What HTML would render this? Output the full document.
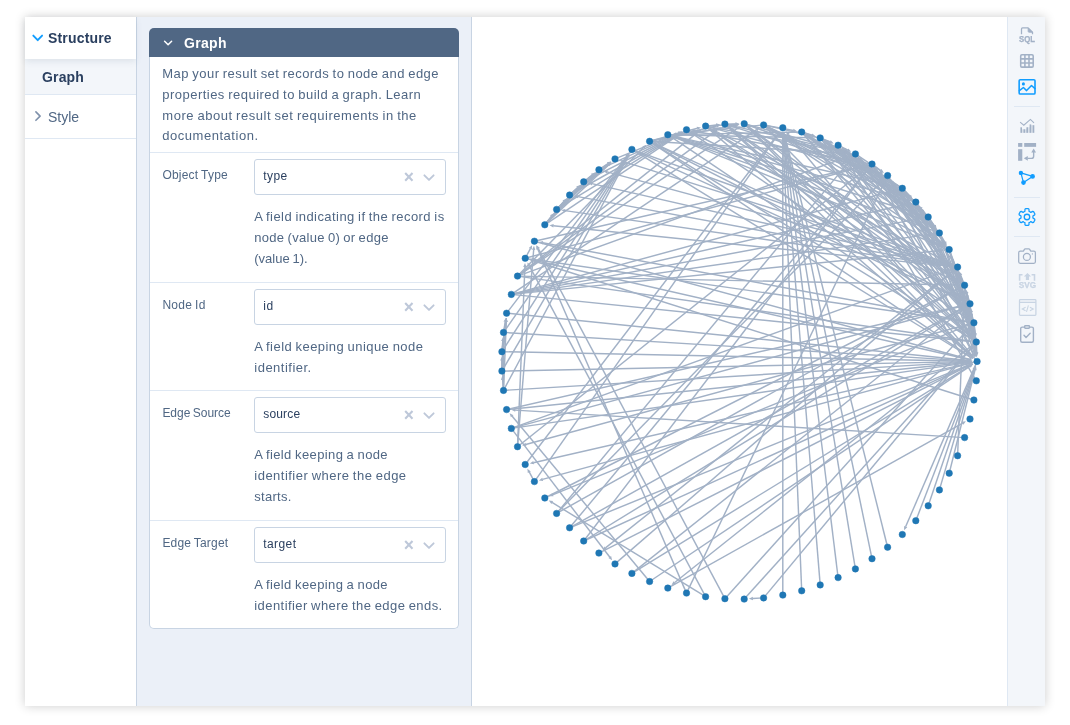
<!DOCTYPE html>
<html lang="en">
<head>
<meta charset="utf-8">
<title>Graph</title>
<style>
*{box-sizing:border-box;margin:0;padding:0}
html,body{width:1070px;height:725px;background:#fff;overflow:hidden}
body{font-family:"Liberation Sans",sans-serif;color:#506784;position:relative}
#app{position:absolute;left:25px;top:17px;width:1020px;height:689px;background:#fff;box-shadow:0 0 10px rgba(0,0,0,.2)}
#side{position:absolute;left:0;top:0;width:112px;height:689px;background:#fff;border-right:1px solid #c8d4e3}
.sg{position:absolute;left:0;width:111px}
#s1{top:0;height:42px;background:#fff;z-index:2;box-shadow:0 3px 6px rgba(80,103,132,.12)}
#s2{top:42px;height:36px;background:#f3f6fa;border-bottom:1px solid #dfe8f3}
#s3{top:78px;height:44px;border-bottom:1px solid #dfe8f3}
.st{position:absolute;font-size:14px;line-height:16px;white-space:nowrap;color:#2a3f5f}
#panel{position:absolute;left:112px;top:0;width:335px;height:689px;background:#ebf0f8;border-right:1px solid #c8d4e3}
#fold{position:absolute;left:12px;top:11px;width:310px;height:601px}
#fb{position:absolute;left:0;top:29px;width:310px;height:572px;background:#fff;border:1px solid #c8d4e3;border-top:0;border-radius:0 0 5px 5px}
#fh{position:absolute;left:0;top:0;width:310px;height:29px;background:#506784;border-radius:5px 5px 0 0}
#fh span{position:absolute;left:35px;top:7px;font-size:14px;line-height:16px;font-weight:bold;color:#fff;letter-spacing:.3px}
.sep{position:absolute;left:0;width:308px;height:1px;background:#dfe8f3}
.t{position:absolute;white-space:nowrap;font-size:13px;line-height:16px;color:#506784}
.lb{position:absolute;white-space:nowrap;font-size:12px;line-height:16px;color:#506784;left:12px}
.sel{position:absolute;left:104px;width:192px;height:36px;border:1px solid #c8d4e3;border-radius:3px;background:#fff}
.vl{position:absolute;font-size:12px;line-height:16px;color:#2a3f5f;white-space:nowrap}
.sel svg{position:absolute;left:0;top:0}
#plot{position:absolute;left:447px;top:0;width:535px;height:689px;background:#fff}
#tb{position:absolute;left:982px;top:0;width:38px;height:689px;background:#f3f6fa;border-left:1px solid #dfe8f3}
#tb svg{position:absolute;left:0;top:0}
</style>
</head>
<body>
<div id="app">
  <div id="side">
    <div class="sg" id="s1">
      <svg width="111" height="42" style="position:absolute;left:0;top:0"><path d="M8.3 18.6 L12.7 23.2 L17.1 18.6" fill="none" stroke="#119dff" stroke-width="1.9" stroke-linecap="round" stroke-linejoin="round"/></svg>
      <span class="st" id="t_structure" style="left:23px;top:13px;font-weight:bold;letter-spacing:.17px">Structure</span>
    </div>
    <div class="sg" id="s2"><span class="st" id="t_graphside" style="left:17px;top:10px;font-weight:bold;letter-spacing:.15px">Graph</span></div>
    <div class="sg" id="s3">
      <svg width="111" height="44" style="position:absolute;left:0;top:0"><path d="M10.9 16.9 L15.1 21.1 L10.9 25.3" fill="none" stroke="#7f91ab" stroke-width="1.6" stroke-linecap="round" stroke-linejoin="round"/></svg>
      <span class="st" id="t_style" style="left:23px;top:14px;color:#506784">Style</span>
    </div>
  </div>
  <div id="panel">
    <div id="fold">
      <div id="fh">
        <svg width="40" height="30" style="position:absolute;left:0;top:0"><path d="M15.6 13.3 L19.1 16.8 L22.6 13.3" fill="none" stroke="#fff" stroke-width="1.5" stroke-linecap="round" stroke-linejoin="round"/></svg>
        <span id="t_fh">Graph</span>
      </div>
      <div id="fb">
<span class="t" style="left:12.30px;top:9px;letter-spacing:0.453px;word-spacing:-0.70px;">Map your result set records to node and edge</span>
<span class="t" style="left:12.30px;top:30px;letter-spacing:0.473px;word-spacing:-0.70px;">properties required to build a graph. Learn</span>
<span class="t" style="left:12.30px;top:51px;letter-spacing:0.530px;word-spacing:-0.70px;">more about result set requirements in the</span>
<span class="t" style="left:12.30px;top:71px;letter-spacing:0.524px;word-spacing:-0.70px;">documentation.</span>
<div class="sep" style="top:95px"></div>
<span class="lb" style="left:12.40px;top:110px;letter-spacing:0.219px;word-spacing:-0.70px;">Object Type</span>
<div class="sel" style="top:102px"><svg width="190" height="34"><path d="M150.2 13.1 L157.5 20.7 M157.5 13.1 L150.2 20.7" stroke="#bec8d9" stroke-width="2.1" fill="none"/><path d="M169.4 15.3 L174 19.9 L178.6 15.3" stroke="#bec8d9" stroke-width="1.9" fill="none" stroke-linecap="round" stroke-linejoin="round"/></svg></div>
<span class="vl" style="left:113.30px;top:111px;letter-spacing:0.373px;word-spacing:-0.70px;">type</span>
<span class="t" style="left:104.30px;top:152px;letter-spacing:0.438px;word-spacing:-0.70px;">A field indicating if the record is</span>
<span class="t" style="left:104.30px;top:173px;letter-spacing:0.290px;word-spacing:-0.70px;">node (value 0) or edge</span>
<span class="t" style="left:104.30px;top:194px;letter-spacing:-0.010px;word-spacing:-0.70px;">(value 1).</span>
<div class="sep" style="top:225px"></div>
<span class="lb" style="left:12.40px;top:240px;letter-spacing:0.279px;word-spacing:-0.70px;">Node Id</span>
<div class="sel" style="top:232px"><svg width="190" height="34"><path d="M150.2 13.1 L157.5 20.7 M157.5 13.1 L150.2 20.7" stroke="#bec8d9" stroke-width="2.1" fill="none"/><path d="M169.4 15.3 L174 19.9 L178.6 15.3" stroke="#bec8d9" stroke-width="1.9" fill="none" stroke-linecap="round" stroke-linejoin="round"/></svg></div>
<span class="vl" style="left:113.30px;top:241px;letter-spacing:0.561px;word-spacing:-0.70px;">id</span>
<span class="t" style="left:104.30px;top:282px;letter-spacing:0.448px;word-spacing:-0.70px;">A field keeping unique node</span>
<span class="t" style="left:104.30px;top:303px;letter-spacing:0.487px;word-spacing:-0.70px;">identifier.</span>
<div class="sep" style="top:333px"></div>
<span class="lb" style="left:12.40px;top:348px;letter-spacing:-0.038px;word-spacing:-0.70px;">Edge Source</span>
<div class="sel" style="top:340px"><svg width="190" height="34"><path d="M150.2 13.1 L157.5 20.7 M157.5 13.1 L150.2 20.7" stroke="#bec8d9" stroke-width="2.1" fill="none"/><path d="M169.4 15.3 L174 19.9 L178.6 15.3" stroke="#bec8d9" stroke-width="1.9" fill="none" stroke-linecap="round" stroke-linejoin="round"/></svg></div>
<span class="vl" style="left:113.30px;top:349px;letter-spacing:0.157px;word-spacing:-0.70px;">source</span>
<span class="t" style="left:104.30px;top:390px;letter-spacing:0.389px;word-spacing:-0.70px;">A field keeping a node</span>
<span class="t" style="left:104.30px;top:411px;letter-spacing:0.480px;word-spacing:-0.70px;">identifier where the edge</span>
<span class="t" style="left:104.30px;top:432px;letter-spacing:0.267px;word-spacing:-0.70px;">starts.</span>
<div class="sep" style="top:463px"></div>
<span class="lb" style="left:12.40px;top:478px;letter-spacing:0.191px;word-spacing:-0.70px;">Edge Target</span>
<div class="sel" style="top:470px"><svg width="190" height="34"><path d="M150.2 13.1 L157.5 20.7 M157.5 13.1 L150.2 20.7" stroke="#bec8d9" stroke-width="2.1" fill="none"/><path d="M169.4 15.3 L174 19.9 L178.6 15.3" stroke="#bec8d9" stroke-width="1.9" fill="none" stroke-linecap="round" stroke-linejoin="round"/></svg></div>
<span class="vl" style="left:113.30px;top:479px;letter-spacing:0.403px;word-spacing:-0.70px;">target</span>
<span class="t" style="left:104.30px;top:520px;letter-spacing:0.389px;word-spacing:-0.70px;">A field keeping a node</span>
<span class="t" style="left:104.30px;top:541px;letter-spacing:0.431px;word-spacing:-0.70px;">identifier where the edge ends.</span>
      </div>
    </div>
  </div>
  <div id="plot">
<svg width="535" height="689" viewBox="472 17 535 689" style="position:absolute;left:0;top:0">
<g stroke="#a2b1c6" stroke-width="1.45" fill="none" stroke-linecap="butt">
<path d="M782.8 595.1L782.8 136.1"/>
<path d="M525.2 464.5L777.7 134.4"/>
<path d="M534.4 481.6L778.0 134.6"/>
<path d="M534.4 481.6L529.2 471.9"/>
<path d="M801.7 590.8L783.1 136.1"/>
<path d="M820.2 584.9L783.5 136.1"/>
<path d="M838.1 577.6L783.8 136.0"/>
<path d="M855.4 568.9L784.2 136.0"/>
<path d="M872.0 558.7L784.5 135.9"/>
<path d="M887.6 547.2L784.8 135.8"/>
<path d="M977.1 361.4L905.6 526.8"/>
<path d="M977.1 361.4L542.5 479.4"/>
<path d="M977.1 361.4L533.4 462.7"/>
<path d="M977.1 361.4L788.2 134.2"/>
<path d="M598.9 553.1L969.6 365.2"/>
<path d="M915.8 520.7L974.1 369.2"/>
<path d="M928.2 505.8L974.4 369.4"/>
<path d="M939.4 489.9L974.7 369.5"/>
<path d="M615.0 158.9L678.7 132.8"/>
<path d="M598.9 169.7L678.9 133.1"/>
<path d="M598.9 169.7L608.0 163.5"/>
<path d="M583.7 181.8L679.0 133.5"/>
<path d="M583.7 181.8L608.2 163.8"/>
<path d="M583.7 181.8L592.3 174.9"/>
<path d="M569.6 195.0L679.2 133.8"/>
<path d="M569.6 195.0L608.4 164.1"/>
<path d="M569.6 195.0L592.6 175.2"/>
<path d="M569.6 195.0L577.6 187.5"/>
<path d="M556.6 209.4L679.3 134.1"/>
<path d="M556.6 209.4L608.6 164.4"/>
<path d="M556.6 209.4L592.8 175.4"/>
<path d="M556.6 209.4L577.9 187.8"/>
<path d="M556.6 209.4L564.0 201.3"/>
<path d="M544.8 224.8L679.5 134.3"/>
<path d="M544.8 224.8L608.9 164.6"/>
<path d="M544.8 224.8L593.0 175.7"/>
<path d="M544.8 224.8L578.1 188.0"/>
<path d="M544.8 224.8L564.2 201.5"/>
<path d="M544.8 224.8L551.5 216.1"/>
<path d="M957.6 267.1L694.0 133.5"/>
<path d="M957.6 267.1L623.0 161.4"/>
<path d="M957.6 267.1L607.0 171.9"/>
<path d="M957.6 267.1L591.9 183.6"/>
<path d="M957.6 267.1L577.9 196.6"/>
<path d="M957.6 267.1L564.9 210.6"/>
<path d="M957.6 267.1L553.2 225.7"/>
<path d="M957.6 267.1L605.5 547.9"/>
<path d="M957.6 267.1L975.4 353.2"/>
<path d="M887.6 175.6L952.5 260.4"/>
<path d="M887.6 175.6L973.5 353.8"/>
<path d="M964.6 285.2L892.4 182.4"/>
<path d="M964.6 285.2L960.6 274.9"/>
<path d="M964.6 285.2L975.7 353.1"/>
<path d="M872.0 164.1L880.8 170.6"/>
<path d="M872.0 164.1L973.1 354.0"/>
<path d="M872.0 164.1L694.8 131.2"/>
<path d="M872.0 164.1L959.4 278.5"/>
<path d="M970.0 303.8L976.1 353.1"/>
<path d="M970.0 303.8L960.3 275.0"/>
<path d="M970.0 303.8L966.9 293.2"/>
<path d="M970.0 303.8L892.1 182.6"/>
<path d="M970.0 303.8L876.8 171.0"/>
<path d="M506.6 409.6L968.7 362.3"/>
<path d="M506.6 409.6L961.8 305.7"/>
<path d="M631.9 149.4L949.7 264.2"/>
<path d="M631.9 149.4L962.4 300.3"/>
<path d="M631.9 149.4L969.9 357.0"/>
<path d="M615.0 563.9L951.2 272.6"/>
<path d="M511.3 428.4L609.9 557.3"/>
<path d="M511.3 428.4L968.8 362.6"/>
<path d="M511.3 428.4L949.7 269.9"/>
<path d="M511.3 428.4L961.9 306.0"/>
<path d="M949.2 473.2L975.1 369.5"/>
<path d="M631.9 573.4L969.9 365.8"/>
<path d="M631.9 573.4L963.4 309.0"/>
<path d="M506.6 313.2L968.7 360.5"/>
<path d="M506.6 313.2L626.8 156.1"/>
<path d="M503.5 332.4L968.7 360.9"/>
<path d="M503.5 332.4L505.3 321.5"/>
<path d="M503.5 332.4L627.1 156.3"/>
<path d="M501.9 351.7L505.6 321.6"/>
<path d="M501.9 351.7L502.8 340.8"/>
<path d="M501.9 351.7L968.7 361.2"/>
<path d="M501.9 351.7L627.4 156.5"/>
<path d="M501.9 371.1L505.9 321.6"/>
<path d="M501.9 371.1L503.1 340.8"/>
<path d="M501.9 371.1L501.9 360.1"/>
<path d="M501.9 371.1L968.7 361.6"/>
<path d="M501.9 371.1L627.7 156.6"/>
<path d="M503.5 390.4L506.3 321.6"/>
<path d="M503.5 390.4L503.5 340.8"/>
<path d="M503.5 390.4L502.2 360.1"/>
<path d="M503.5 390.4L502.6 379.5"/>
<path d="M503.5 390.4L968.7 361.9"/>
<path d="M503.5 390.4L628.0 156.8"/>
<path d="M544.8 498.0L957.1 289.0"/>
<path d="M957.6 455.7L964.2 293.6"/>
<path d="M855.4 153.9L880.6 170.9"/>
<path d="M855.4 153.9L959.2 278.7"/>
<path d="M556.6 513.4L850.1 160.4"/>
<path d="M556.6 513.4L957.2 289.3"/>
<path d="M556.6 513.4L881.7 181.6"/>
<path d="M569.6 527.8L969.3 364.6"/>
<path d="M569.6 527.8L866.6 170.6"/>
<path d="M569.6 527.8L962.7 307.9"/>
<path d="M649.6 581.5L512.0 416.0"/>
<path d="M649.6 581.5L970.1 366.1"/>
<path d="M964.6 437.6L515.0 410.1"/>
<path d="M667.8 588.1L962.7 423.1"/>
<path d="M976.3 342.0L674.4 582.8"/>
<path d="M976.3 342.0L966.3 293.4"/>
<path d="M976.3 342.0L971.4 312.1"/>
<path d="M976.3 342.0L976.8 353.0"/>
<path d="M534.4 241.2L863.8 166.0"/>
<path d="M534.4 241.2L969.0 359.2"/>
<path d="M686.5 593.1L537.7 248.9"/>
<path d="M686.5 593.1L884.0 183.1"/>
<path d="M525.2 258.3L530.4 248.6"/>
<path d="M525.2 258.3L863.9 166.3"/>
<path d="M525.2 258.3L968.9 359.5"/>
<path d="M705.6 596.7L529.2 265.7"/>
<path d="M705.6 596.7L552.0 502.4"/>
<path d="M973.9 400.0L533.2 260.8"/>
<path d="M517.5 446.7L524.9 266.7"/>
<path d="M517.5 446.7L533.7 249.5"/>
<path d="M517.5 446.7L865.4 169.3"/>
<path d="M973.9 322.8L533.6 259.5"/>
<path d="M973.9 322.8L542.6 242.7"/>
<path d="M973.9 322.8L552.6 494.8"/>
<path d="M973.9 322.8L525.7 444.5"/>
<path d="M973.9 322.8L876.5 171.2"/>
<path d="M973.9 322.8L976.4 353.0"/>
<path d="M973.9 322.8L693.5 134.3"/>
<path d="M973.9 322.8L966.6 293.3"/>
<path d="M973.9 322.8L860.3 160.8"/>
<path d="M973.9 322.8L975.3 333.7"/>
<path d="M724.9 598.7L538.3 248.6"/>
<path d="M724.9 598.7L968.3 329.0"/>
<path d="M838.1 145.2L968.8 316.1"/>
<path d="M838.1 145.2L847.9 150.2"/>
<path d="M838.1 145.2L971.5 335.1"/>
<path d="M949.2 249.6L971.2 314.8"/>
<path d="M949.2 249.6L973.9 334.0"/>
<path d="M949.2 249.6L967.0 296.0"/>
<path d="M949.2 249.6L844.3 150.9"/>
<path d="M949.2 249.6L975.1 353.3"/>
<path d="M820.2 137.9L942.8 244.1"/>
<path d="M820.2 137.9L968.6 316.3"/>
<path d="M820.2 137.9L971.2 335.4"/>
<path d="M820.2 137.9L830.4 142.0"/>
<path d="M667.8 134.7L969.3 337.3"/>
<path d="M667.8 134.7L941.4 246.4"/>
<path d="M667.8 134.7L811.8 137.7"/>
<path d="M801.7 132.0L970.9 335.6"/>
<path d="M801.7 132.0L942.6 244.4"/>
<path d="M801.7 132.0L676.2 134.6"/>
<path d="M801.7 132.0L812.2 135.3"/>
<path d="M801.7 132.0L830.2 142.3"/>
<path d="M801.7 132.0L968.3 316.5"/>
<path d="M939.4 232.9L970.9 314.9"/>
<path d="M939.4 232.9L944.9 242.4"/>
<path d="M939.4 232.9L826.8 143.1"/>
<path d="M939.4 232.9L973.6 334.1"/>
<path d="M939.4 232.9L844.5 150.7"/>
<path d="M939.4 232.9L861.6 159.7"/>
<path d="M939.4 232.9L808.5 137.0"/>
<path d="M939.4 232.9L675.7 137.6"/>
<path d="M915.8 202.1L827.2 142.5"/>
<path d="M915.8 202.1L973.0 334.3"/>
<path d="M915.8 202.1L934.3 226.2"/>
<path d="M915.8 202.1L844.9 150.1"/>
<path d="M915.8 202.1L944.3 242.7"/>
<path d="M915.8 202.1L808.9 136.4"/>
<path d="M915.8 202.1L675.9 136.9"/>
<path d="M915.8 202.1L970.3 315.2"/>
<path d="M928.2 217.0L970.6 315.1"/>
<path d="M928.2 217.0L934.5 226.0"/>
<path d="M928.2 217.0L973.3 334.2"/>
<path d="M928.2 217.0L921.2 208.6"/>
<path d="M928.2 217.0L944.6 242.5"/>
<path d="M928.2 217.0L808.7 136.7"/>
<path d="M928.2 217.0L675.8 137.3"/>
<path d="M928.2 217.0L827.0 142.8"/>
<path d="M928.2 217.0L844.7 150.4"/>
<path d="M928.2 217.0L974.4 353.4"/>
<path d="M902.3 188.3L910.0 196.1"/>
<path d="M902.3 188.3L922.6 210.8"/>
<path d="M902.3 188.3L972.7 334.5"/>
<path d="M902.3 188.3L934.0 226.4"/>
<path d="M902.3 188.3L944.1 242.9"/>
<path d="M902.3 188.3L809.0 136.1"/>
<path d="M902.3 188.3L676.0 136.6"/>
<path d="M902.3 188.3L827.3 142.2"/>
<path d="M902.3 188.3L845.1 149.9"/>
<path d="M902.3 188.3L970.0 315.4"/>
<path d="M763.6 124.9L920.9 212.9"/>
<path d="M763.6 124.9L942.2 244.9"/>
<path d="M763.6 124.9L812.0 136.0"/>
<path d="M763.6 124.9L932.2 228.5"/>
<path d="M763.6 124.9L894.6 184.8"/>
<path d="M763.6 124.9L970.4 336.0"/>
<path d="M763.6 124.9L908.3 198.3"/>
<path d="M763.6 124.9L793.4 130.5"/>
<path d="M763.6 124.9L676.2 133.9"/>
<path d="M976.3 380.8L842.4 152.4"/>
<path d="M744.2 123.7L957.8 280.2"/>
<path d="M744.2 123.7L971.2 355.4"/>
<path d="M744.2 123.7L879.7 172.7"/>
<path d="M744.2 123.7L963.4 298.6"/>
<path d="M744.2 123.7L970.2 336.3"/>
<path d="M744.2 123.7L847.3 151.7"/>
<path d="M724.9 124.1L957.6 280.5"/>
<path d="M724.9 124.1L735.9 123.9"/>
<path d="M724.9 124.1L971.0 355.6"/>
<path d="M724.9 124.1L879.6 173.0"/>
<path d="M724.9 124.1L963.2 298.8"/>
<path d="M724.9 124.1L970.0 336.5"/>
<path d="M724.9 124.1L847.3 152.1"/>
<path d="M705.6 126.1L957.4 280.8"/>
<path d="M705.6 126.1L716.5 125.0"/>
<path d="M705.6 126.1L735.9 124.3"/>
<path d="M705.6 126.1L970.8 355.9"/>
<path d="M705.6 126.1L879.5 173.4"/>
<path d="M705.6 126.1L963.0 299.1"/>
<path d="M705.6 126.1L847.2 152.4"/>
<path d="M705.6 126.1L941.7 245.8"/>
<path d="M649.6 141.3L962.5 300.0"/>
<path d="M649.6 141.3L716.7 126.0"/>
<path d="M649.6 141.3L736.0 125.3"/>
<path d="M649.6 141.3L697.5 128.3"/>
<path d="M649.6 141.3L970.1 356.7"/>
<path d="M649.6 141.3L969.2 337.6"/>
<path d="M649.6 141.3L847.1 153.4"/>
<path d="M649.6 141.3L956.9 281.7"/>
<path d="M583.7 541.0L866.9 170.8"/>
<path d="M583.7 541.0L962.9 308.2"/>
<path d="M583.7 541.0L969.5 364.9"/>
<path d="M744.2 599.1L970.7 348.3"/>
<path d="M763.6 597.9L970.9 348.5"/>
<path d="M763.6 597.9L752.6 598.5"/>
<path d="M517.5 276.1L718.1 129.1"/>
<path d="M517.5 276.1L737.3 128.4"/>
<path d="M517.5 276.1L956.2 285.0"/>
<path d="M517.5 276.1L968.0 340.8"/>
<path d="M517.5 276.1L847.5 156.8"/>
<path d="M517.5 276.1L699.0 131.4"/>
<path d="M517.5 276.1L643.7 147.3"/>
<path d="M511.3 294.4L920.0 218.6"/>
<path d="M511.3 294.4L894.2 190.5"/>
<path d="M511.3 294.4L756.6 129.6"/>
<path d="M511.3 294.4L907.6 204.0"/>
<path d="M511.3 294.4L931.1 234.1"/>
<path d="M511.3 294.4L968.0 341.2"/>
<path d="M511.3 294.4L940.8 250.5"/>
</g>
<path fill="#a2b1c6" d="M782.8 132.4L784.5 136.4L781.1 136.4ZM779.9 131.4L778.9 135.6L776.2 133.6ZM780.1 131.5L779.2 135.8L776.4 133.8ZM527.4 468.7L530.8 471.4L527.8 473.0ZM783.0 132.4L784.9 136.3L781.5 136.5ZM783.2 132.4L785.2 136.2L781.8 136.5ZM783.4 132.4L785.5 136.1L782.2 136.5ZM783.6 132.3L785.9 136.0L782.5 136.6ZM783.7 132.3L786.2 135.9L782.9 136.6ZM783.9 132.3L786.6 135.7L783.3 136.5ZM904.1 530.2L904.1 525.9L907.3 527.2ZM538.9 480.4L542.3 477.7L543.2 481.0ZM529.8 463.5L533.3 460.9L534.1 464.3ZM785.8 131.3L789.7 133.3L787.1 135.5ZM972.9 363.5L970.1 366.9L968.6 363.8ZM975.4 365.8L975.6 370.1L972.4 368.9ZM975.6 365.9L975.9 370.2L972.7 369.1ZM975.8 365.9L976.3 370.2L973.0 369.3ZM682.2 131.4L679.1 134.5L677.8 131.4ZM682.2 131.6L679.3 134.8L677.9 131.7ZM611.1 161.5L608.7 165.1L606.8 162.3ZM682.3 131.8L679.5 135.1L678.0 132.1ZM611.2 161.6L609.0 165.4L607.0 162.6ZM595.2 172.6L593.2 176.4L591.0 173.8ZM682.4 132.0L679.7 135.4L678.1 132.4ZM611.3 161.8L609.3 165.6L607.1 162.9ZM595.3 172.7L593.4 176.7L591.2 174.1ZM580.3 185.0L578.6 189.0L576.2 186.5ZM682.5 132.1L680.0 135.7L678.2 132.8ZM611.4 161.9L609.5 165.8L607.3 163.3ZM595.5 172.9L593.7 176.9L591.4 174.4ZM580.5 185.1L578.9 189.2L576.4 186.8ZM566.5 198.5L565.0 202.6L562.5 200.4ZM682.6 132.3L680.2 135.9L678.3 133.1ZM611.6 162.1L609.8 166.1L607.5 163.6ZM595.6 173.0L594.0 177.1L591.6 174.7ZM580.6 185.2L579.2 189.4L576.6 187.1ZM566.6 198.7L565.4 202.8L562.7 200.6ZM553.8 213.2L552.7 217.4L550.0 215.3ZM690.7 131.8L695.0 132.1L693.5 135.1ZM619.5 160.3L623.8 159.9L622.8 163.1ZM603.4 170.9L607.7 170.3L606.9 173.6ZM588.3 182.8L592.6 182.0L591.8 185.4ZM574.2 195.9L578.5 195.0L577.9 198.3ZM561.3 210.1L565.5 209.0L565.0 212.4ZM549.5 225.3L553.7 224.0L553.3 227.4ZM602.6 550.2L604.6 546.4L606.8 549.0ZM976.1 356.8L973.7 353.2L977.0 352.5ZM954.7 263.4L951.0 261.2L953.7 259.1ZM975.1 357.2L971.8 354.3L974.9 352.8ZM890.3 179.4L894.0 181.7L891.2 183.7ZM959.3 271.5L962.3 274.6L959.1 275.8ZM976.3 356.8L974.0 353.1L977.4 352.5ZM883.8 172.8L879.6 171.8L881.6 169.0ZM974.9 357.3L971.5 354.5L974.5 352.9ZM691.1 130.5L695.4 129.6L694.8 132.9ZM961.7 281.5L957.9 279.3L960.6 277.2ZM976.5 356.7L974.4 353.0L977.7 352.6ZM959.1 271.5L962.0 274.8L958.8 275.9ZM965.9 289.7L968.6 293.1L965.4 294.0ZM890.1 179.5L893.7 182.0L890.9 183.8ZM874.7 167.9L878.4 170.2L875.6 172.2ZM972.4 361.9L968.6 364.0L968.3 360.6ZM965.4 304.8L961.9 307.4L961.2 304.1ZM953.2 265.5L948.8 265.7L950.0 262.5ZM965.7 301.8L961.4 301.7L962.8 298.6ZM973.1 358.9L968.8 358.3L970.6 355.4ZM954.0 270.2L952.1 274.1L949.9 271.5ZM612.1 560.2L608.4 558.1L611.1 556.0ZM972.4 362.1L968.7 364.3L968.2 361.0ZM953.2 268.7L950.0 271.6L948.8 268.4ZM965.5 305.0L962.1 307.7L961.2 304.4ZM976.0 366.0L976.6 370.3L973.3 369.4ZM973.1 363.9L970.6 367.4L968.8 364.5ZM966.3 306.7L964.3 310.5L962.2 307.9ZM972.4 360.9L968.3 362.2L968.6 358.8ZM629.1 153.1L628.0 157.3L625.3 155.3ZM972.4 361.1L968.3 362.6L968.5 359.2ZM505.9 317.9L506.9 322.1L503.5 321.6ZM629.2 153.2L628.3 157.5L625.5 155.5ZM506.1 317.9L507.3 322.1L503.9 321.7ZM503.1 337.1L504.5 341.2L501.1 340.9ZM972.4 361.3L968.4 362.9L968.4 359.5ZM629.4 153.3L628.6 157.6L625.8 155.8ZM506.2 317.9L507.6 322.1L504.2 321.8ZM503.3 337.1L504.8 341.1L501.4 341.0ZM501.9 356.4L503.6 360.4L500.2 360.4ZM972.4 361.5L968.4 363.3L968.4 359.9ZM629.5 153.4L629.0 157.8L626.1 156.0ZM506.4 317.9L508.0 322.0L504.6 321.9ZM503.5 337.1L505.2 341.1L501.8 341.1ZM502.1 356.4L504.0 360.3L500.6 360.5ZM502.3 375.8L504.3 379.6L500.9 379.9ZM972.4 361.7L968.5 363.6L968.3 360.2ZM629.7 153.5L629.3 157.9L626.3 156.3ZM960.4 287.3L957.6 290.6L956.0 287.6ZM964.4 289.9L965.9 293.9L962.5 293.8ZM883.7 172.9L879.4 172.1L881.3 169.3ZM961.5 281.6L957.7 279.6L960.3 277.4ZM852.4 157.6L851.2 161.7L848.6 159.6ZM960.4 287.5L957.8 290.9L956.1 287.9ZM884.3 178.9L882.7 183.0L880.3 180.6ZM972.7 363.2L969.7 366.3L968.4 363.1ZM869.0 167.7L867.7 171.9L865.1 169.7ZM965.9 306.1L963.3 309.5L961.6 306.6ZM509.6 413.2L513.5 415.2L510.9 417.3ZM973.2 364.0L970.8 367.7L968.9 364.8ZM511.3 409.8L515.4 408.4L515.2 411.8ZM965.9 421.3L963.3 424.7L961.6 421.8ZM671.5 585.1L673.5 581.3L675.7 584.0ZM965.5 289.8L968.0 293.4L964.6 294.0ZM970.8 308.4L973.1 312.1L969.7 312.7ZM976.9 356.7L975.0 352.8L978.4 352.6ZM867.4 165.1L863.9 167.7L863.1 164.4ZM972.6 360.2L968.3 360.8L969.1 357.5ZM536.2 245.5L539.4 248.5L536.3 249.8ZM885.6 179.8L885.4 184.1L882.3 182.7ZM532.1 245.3L531.8 249.6L528.8 248.0ZM867.4 165.3L864.0 168.0L863.1 164.7ZM972.5 360.4L968.2 361.1L969.0 357.8ZM527.4 262.4L530.8 265.1L527.8 266.7ZM548.8 500.4L553.1 501.1L551.4 504.0ZM529.7 259.7L534.0 259.3L533.0 262.5ZM525.0 263.0L526.6 267.0L523.2 266.9ZM534.0 245.8L535.3 250.0L532.0 249.7ZM868.3 167.0L866.2 170.9L864.1 168.2ZM529.9 258.9L534.1 257.8L533.6 261.2ZM539.0 242.0L543.2 241.1L542.6 244.4ZM549.2 496.2L552.3 493.1L553.5 496.2ZM522.1 445.5L525.5 442.8L526.4 446.1ZM874.5 168.1L878.1 170.5L875.2 172.3ZM976.7 356.7L974.7 352.9L978.1 352.6ZM690.4 132.3L694.7 133.1L692.8 135.9ZM965.7 289.7L968.3 293.2L965.0 294.0ZM858.1 157.8L861.8 160.1L859.0 162.0ZM975.7 337.4L973.6 333.6L976.9 333.2ZM536.6 245.3L540.0 248.0L536.9 249.6ZM970.8 326.3L969.4 330.4L966.8 328.1ZM971.1 319.0L967.3 316.9L970.0 314.8ZM851.2 151.8L846.9 151.5L848.4 148.5ZM973.6 338.2L969.9 335.9L972.7 333.9ZM972.4 318.3L969.5 315.1L972.8 314.0ZM975.0 337.5L972.2 334.2L975.5 333.2ZM968.3 299.4L965.3 296.3L968.5 295.1ZM841.6 148.4L845.6 149.9L843.3 152.4ZM976.0 356.8L973.3 353.4L976.6 352.5ZM945.6 246.5L941.5 245.2L943.7 242.6ZM970.9 319.2L967.1 317.2L969.7 315.0ZM973.5 338.3L969.7 336.1L972.4 334.1ZM833.8 143.4L829.4 143.5L830.7 140.3ZM972.4 339.4L968.1 338.6L970.0 335.8ZM944.8 247.8L940.5 247.9L941.8 244.8ZM815.5 137.8L811.5 139.4L811.5 136.0ZM973.3 338.4L969.4 336.4L972.1 334.2ZM945.5 246.7L941.3 245.5L943.4 242.9ZM672.5 134.6L676.5 132.9L676.5 136.3ZM815.7 136.4L811.4 136.9L812.4 133.6ZM833.7 143.6L829.4 143.8L830.5 140.6ZM970.8 319.3L966.8 317.5L969.4 315.2ZM972.3 318.4L969.2 315.3L972.4 314.0ZM946.8 245.6L943.3 243.0L946.2 241.3ZM823.9 140.8L828.1 141.9L825.9 144.6ZM974.8 337.6L971.9 334.3L975.1 333.2ZM841.7 148.3L845.8 149.6L843.6 152.2ZM858.9 157.2L862.9 158.7L860.6 161.1ZM805.5 134.8L809.7 135.8L807.7 138.5ZM672.2 136.3L676.6 136.1L675.4 139.3ZM824.1 140.5L828.4 141.3L826.5 144.1ZM974.4 337.7L971.3 334.7L974.4 333.4ZM936.5 229.2L932.7 227.0L935.4 224.9ZM841.9 148.0L846.2 149.0L844.2 151.7ZM946.5 245.8L942.8 243.5L945.6 241.5ZM805.7 134.5L810.0 135.1L808.2 138.0ZM672.3 136.0L676.6 135.4L675.7 138.7ZM971.9 318.5L968.6 315.7L971.7 314.2ZM972.1 318.5L968.9 315.5L972.1 314.1ZM936.7 229.0L933.0 226.7L935.8 224.8ZM974.6 337.6L971.6 334.5L974.8 333.3ZM918.8 205.7L922.7 207.7L920.1 209.9ZM946.6 245.7L943.0 243.2L945.9 241.4ZM805.6 134.6L809.9 135.5L808.0 138.3ZM672.3 136.2L676.6 135.7L675.6 139.0ZM824.0 140.6L828.2 141.6L826.2 144.4ZM841.8 148.1L846.0 149.3L843.9 151.9ZM975.6 356.9L972.7 353.7L975.9 352.6ZM912.5 198.8L908.5 197.1L911.0 194.7ZM925.1 213.5L921.1 211.7L923.7 209.4ZM974.3 337.8L971.0 334.9L974.1 333.4ZM936.4 229.3L932.5 227.3L935.1 225.1ZM946.3 245.9L942.5 243.7L945.2 241.7ZM805.8 134.3L810.1 134.8L808.5 137.7ZM672.4 135.8L676.7 135.0L675.9 138.3ZM824.2 140.3L828.5 141.0L826.7 143.9ZM842.0 147.8L846.3 148.6L844.4 151.4ZM971.7 318.6L968.3 315.9L971.4 314.3ZM924.1 214.7L919.8 214.3L921.5 211.3ZM945.3 247.0L941.0 246.2L942.9 243.4ZM815.6 136.8L811.3 137.6L812.1 134.3ZM935.4 230.4L931.1 229.8L932.8 226.9ZM898.0 186.3L893.6 186.2L895.1 183.1ZM973.0 338.7L969.0 337.0L971.4 334.6ZM911.6 200.0L907.3 199.7L908.8 196.7ZM797.1 131.2L792.8 132.1L793.5 128.8ZM672.5 134.3L676.3 132.2L676.6 135.5ZM840.5 149.2L844.0 151.8L841.1 153.5ZM960.8 282.4L956.5 281.4L958.5 278.7ZM973.8 358.0L969.8 356.4L972.2 354.0ZM883.2 174.0L878.8 174.2L880.0 171.0ZM966.3 300.9L962.2 299.7L964.3 297.0ZM972.9 338.8L968.8 337.3L971.1 334.8ZM850.9 152.7L846.6 153.3L847.5 150.0ZM960.6 282.6L956.4 281.7L958.3 278.9ZM739.5 123.8L735.6 125.6L735.5 122.2ZM973.7 358.2L969.6 356.7L971.9 354.2ZM883.1 174.1L878.8 174.6L879.8 171.3ZM966.2 301.0L962.0 300.0L964.0 297.3ZM972.8 338.9L968.6 337.6L970.8 335.0ZM850.9 152.9L846.6 153.7L847.3 150.4ZM960.5 282.7L956.2 282.1L958.0 279.2ZM720.2 124.6L716.4 126.7L716.0 123.3ZM739.6 124.0L735.7 126.0L735.5 122.6ZM973.5 358.3L969.4 357.0L971.6 354.4ZM883.1 174.3L878.8 174.9L879.7 171.6ZM966.1 301.2L961.8 300.3L963.7 297.5ZM850.8 153.1L846.6 154.0L847.2 150.7ZM945.0 247.5L940.6 247.2L942.2 244.2ZM965.8 301.7L961.5 301.4L963.0 298.3ZM720.3 125.2L716.8 127.7L716.0 124.4ZM739.6 124.6L736.0 127.0L735.4 123.7ZM701.0 127.4L697.6 130.0L696.7 126.8ZM973.2 358.8L968.9 358.0L970.8 355.1ZM972.3 339.6L968.0 338.9L969.8 336.0ZM850.7 153.7L846.7 155.1L846.9 151.7ZM960.3 283.2L955.9 283.1L957.3 280.0ZM869.1 167.8L868.0 172.0L865.3 170.0ZM966.0 306.3L963.5 309.8L961.7 306.9ZM972.8 363.4L969.9 366.6L968.5 363.5ZM973.2 345.5L971.7 349.6L969.2 347.3ZM973.3 345.6L972.1 349.8L969.4 347.6ZM748.9 598.8L752.8 596.8L753.0 600.2ZM721.1 126.9L718.8 130.7L716.8 127.9ZM740.3 126.4L738.0 130.0L736.1 127.2ZM959.9 285.1L955.8 286.7L955.9 283.3ZM971.7 341.4L967.5 342.5L967.9 339.1ZM851.0 155.5L847.8 158.5L846.7 155.3ZM701.9 129.0L699.8 132.9L697.7 130.2ZM646.3 144.7L644.7 148.7L642.3 146.4ZM923.6 217.9L920.0 220.3L919.4 216.9ZM897.7 189.5L894.3 192.2L893.4 188.9ZM759.7 127.6L757.3 131.2L755.4 128.4ZM911.2 203.2L907.7 205.7L907.0 202.4ZM934.7 233.6L931.0 235.8L930.5 232.4ZM971.6 341.5L967.5 342.8L967.8 339.4ZM944.5 250.1L940.7 252.2L940.3 248.8Z"/>
<g fill="#1f77b4" stroke="#1f77b4" stroke-width="0.9" stroke-opacity="0.55">
<circle cx="977.1" cy="361.4" r="3.25"/>
<circle cx="976.3" cy="342.0" r="3.25"/>
<circle cx="973.9" cy="322.8" r="3.25"/>
<circle cx="970.0" cy="303.8" r="3.25"/>
<circle cx="964.6" cy="285.2" r="3.25"/>
<circle cx="957.6" cy="267.1" r="3.25"/>
<circle cx="949.2" cy="249.6" r="3.25"/>
<circle cx="939.4" cy="232.9" r="3.25"/>
<circle cx="928.2" cy="217.0" r="3.25"/>
<circle cx="915.8" cy="202.1" r="3.25"/>
<circle cx="902.3" cy="188.3" r="3.25"/>
<circle cx="887.6" cy="175.6" r="3.25"/>
<circle cx="872.0" cy="164.1" r="3.25"/>
<circle cx="855.4" cy="153.9" r="3.25"/>
<circle cx="838.1" cy="145.2" r="3.25"/>
<circle cx="820.2" cy="137.9" r="3.25"/>
<circle cx="801.7" cy="132.0" r="3.25"/>
<circle cx="782.8" cy="127.7" r="3.25"/>
<circle cx="763.6" cy="124.9" r="3.25"/>
<circle cx="744.2" cy="123.7" r="3.25"/>
<circle cx="724.9" cy="124.1" r="3.25"/>
<circle cx="705.6" cy="126.1" r="3.25"/>
<circle cx="686.5" cy="129.7" r="3.25"/>
<circle cx="667.8" cy="134.7" r="3.25"/>
<circle cx="649.6" cy="141.3" r="3.25"/>
<circle cx="631.9" cy="149.4" r="3.25"/>
<circle cx="615.0" cy="158.9" r="3.25"/>
<circle cx="598.9" cy="169.7" r="3.25"/>
<circle cx="583.7" cy="181.8" r="3.25"/>
<circle cx="569.6" cy="195.0" r="3.25"/>
<circle cx="556.6" cy="209.4" r="3.25"/>
<circle cx="544.8" cy="224.8" r="3.25"/>
<circle cx="534.4" cy="241.2" r="3.25"/>
<circle cx="525.2" cy="258.3" r="3.25"/>
<circle cx="517.5" cy="276.1" r="3.25"/>
<circle cx="511.3" cy="294.4" r="3.25"/>
<circle cx="506.6" cy="313.2" r="3.25"/>
<circle cx="503.5" cy="332.4" r="3.25"/>
<circle cx="501.9" cy="351.7" r="3.25"/>
<circle cx="501.9" cy="371.1" r="3.25"/>
<circle cx="503.5" cy="390.4" r="3.25"/>
<circle cx="506.6" cy="409.6" r="3.25"/>
<circle cx="511.3" cy="428.4" r="3.25"/>
<circle cx="517.5" cy="446.7" r="3.25"/>
<circle cx="525.2" cy="464.5" r="3.25"/>
<circle cx="534.4" cy="481.6" r="3.25"/>
<circle cx="544.8" cy="498.0" r="3.25"/>
<circle cx="556.6" cy="513.4" r="3.25"/>
<circle cx="569.6" cy="527.8" r="3.25"/>
<circle cx="583.7" cy="541.0" r="3.25"/>
<circle cx="598.9" cy="553.1" r="3.25"/>
<circle cx="615.0" cy="563.9" r="3.25"/>
<circle cx="631.9" cy="573.4" r="3.25"/>
<circle cx="649.6" cy="581.5" r="3.25"/>
<circle cx="667.8" cy="588.1" r="3.25"/>
<circle cx="686.5" cy="593.1" r="3.25"/>
<circle cx="705.6" cy="596.7" r="3.25"/>
<circle cx="724.9" cy="598.7" r="3.25"/>
<circle cx="744.2" cy="599.1" r="3.25"/>
<circle cx="763.6" cy="597.9" r="3.25"/>
<circle cx="782.8" cy="595.1" r="3.25"/>
<circle cx="801.7" cy="590.8" r="3.25"/>
<circle cx="820.2" cy="584.9" r="3.25"/>
<circle cx="838.1" cy="577.6" r="3.25"/>
<circle cx="855.4" cy="568.9" r="3.25"/>
<circle cx="872.0" cy="558.7" r="3.25"/>
<circle cx="887.6" cy="547.2" r="3.25"/>
<circle cx="902.3" cy="534.5" r="3.25"/>
<circle cx="915.8" cy="520.7" r="3.25"/>
<circle cx="928.2" cy="505.8" r="3.25"/>
<circle cx="939.4" cy="489.9" r="3.25"/>
<circle cx="949.2" cy="473.2" r="3.25"/>
<circle cx="957.6" cy="455.7" r="3.25"/>
<circle cx="964.6" cy="437.6" r="3.25"/>
<circle cx="970.0" cy="419.0" r="3.25"/>
<circle cx="973.9" cy="400.0" r="3.25"/>
<circle cx="976.3" cy="380.8" r="3.25"/>
</g></svg>
  </div>
  <div id="tb">
<svg width="37" height="689" viewBox="1008 17 37 689" font-family="'Liberation Sans',sans-serif">
<rect x="1014" y="106" width="26" height="1" fill="#dfe8f3"/>
<rect x="1014" y="197" width="26" height="1" fill="#dfe8f3"/>
<rect x="1014" y="236" width="26" height="1" fill="#dfe8f3"/>
<g fill="none" stroke="#a2b1c6" stroke-width="1.25" stroke-linejoin="round">
<path d="M1021.5 34.3V28.9q0-1 1-1h5.6l4.4 4.4v2"/>
<path d="M1028.1 27.9v3.4q0 1 1 1h3.4z" fill="#a2b1c6" stroke-width="0.8"/>
</g>
<text x="1027" y="42.4" style="font:bold 8.7px 'Liberation Sans',sans-serif" fill="#a2b1c6" stroke="#a2b1c6" stroke-width="0.25" text-anchor="middle" textLength="16" lengthAdjust="spacingAndGlyphs">SQL</text>
<g fill="none" stroke="#a2b1c6" stroke-width="1.55">
<rect x="1020.7" y="54.7" width="12.5" height="12.4" rx="1.2"/>
<path d="M1024.9 54.7v12.4M1029 54.7v12.4M1020.7 58.85h12.5M1020.7 62.95h12.5"/>
</g>
<g fill="none" stroke="#119dff" stroke-width="1.6" stroke-linejoin="round" stroke-linecap="round">
<rect x="1019.15" y="79.75" width="15.85" height="14.25" rx="1.1"/>
<path d="M1019.4 90.7L1023.4 87.5L1026.6 90.6L1031.5 85.5L1035 88.6" stroke-width="1.5"/>
<circle cx="1023.4" cy="83.9" r="1.55" fill="#119dff" stroke="none"/>
</g>
<g>
<rect x="1021.20" y="129.3" width="3.10" height="3.5" fill="#a2b1c6" opacity="0.3"/>
<rect x="1024.30" y="129.3" width="2.90" height="3.5" fill="#a2b1c6" opacity="0.3"/>
<rect x="1027.20" y="127.3" width="3.20" height="5.5" fill="#a2b1c6" opacity="0.3"/>
<rect x="1030.40" y="125.2" width="3.10" height="7.6" fill="#a2b1c6" opacity="0.3"/>
<rect x="1020.40" y="127.3" width="1.6" height="5.5" fill="#a2b1c6"/>
<rect x="1023.50" y="129.3" width="1.6" height="3.5" fill="#a2b1c6"/>
<rect x="1026.40" y="127.3" width="1.6" height="5.5" fill="#a2b1c6"/>
<rect x="1029.60" y="124.4" width="1.6" height="8.4" fill="#a2b1c6"/>
<rect x="1032.70" y="125.2" width="1.6" height="7.6" fill="#a2b1c6"/>
<path d="M1020.1 122.2L1023.8 125.2L1030.4 119.4L1034 122.9" fill="none" stroke="#a2b1c6" stroke-width="1.05"/>
<rect x="1020.4" y="118" width="13.9" height="9.3" fill="#f3f6fa" opacity="0"/>
</g>
<g fill="#a2b1c6">
<rect x="1018.1" y="143" width="4.2" height="3.85"/>
<rect x="1024.2" y="143" width="11.9" height="3.85"/>
<rect x="1018.1" y="149.2" width="4.2" height="11.6"/>
<path d="M1033.65 148.5l2.4 3.9h-4.8z"/>
<path d="M1023.8 158.35l4-2.4v4.8z"/>
<path d="M1033.65 152v4.2q0 2.15-2.15 2.15h-4" fill="none" stroke="#a2b1c6" stroke-width="1.4"/>
</g>
<g fill="#119dff" stroke="#119dff" stroke-width="1.25">
<path d="M1020.9 172.9L1032.6 176.4L1023.5 182.6Z" fill="none" stroke-linejoin="round"/>
<circle cx="1020.9" cy="172.9" r="1.55"/><circle cx="1032.6" cy="176.4" r="1.7"/><circle cx="1023.5" cy="182.6" r="1.7"/>
</g>
<path d="M1024.92 211.36L1024.97 209.25L1025.64 208.60L1028.30 208.60L1028.97 209.25L1029.02 211.36L1029.97 211.80L1030.83 212.40L1032.68 211.39L1033.58 211.65L1034.91 213.95L1034.68 214.86L1032.88 215.96L1032.97 217.00L1032.88 218.04L1034.68 219.14L1034.91 220.05L1033.58 222.35L1032.68 222.61L1030.83 221.60L1029.97 222.20L1029.02 222.64L1028.97 224.75L1028.30 225.40L1025.64 225.40L1024.97 224.75L1024.92 222.64L1023.97 222.20L1023.11 221.60L1021.26 222.61L1020.36 222.35L1019.03 220.05L1019.26 219.14L1021.06 218.04L1020.97 217.00L1021.06 215.96L1019.26 214.86L1019.03 213.95L1020.36 211.65L1021.26 211.39L1023.11 212.40L1023.97 211.80Z" fill="none" stroke="#119dff" stroke-width="1.25" stroke-linejoin="round"/>
<circle cx="1026.97" cy="217.00" r="2.75" fill="none" stroke="#119dff" stroke-width="1.3"/>
<g fill="none" stroke="#a2b1c6" stroke-width="1.25" stroke-linejoin="round">
<path d="M1020.2 251.2h2.6q0.6 0 0.9-0.6l0.7-1.2q0.3-0.5 0.9-0.5h3.5q0.6 0 0.9 0.5l0.7 1.2q0.3 0.6 0.9 0.6h2.6q1.5 0 1.5 1.5v9.1q0 1.5-1.5 1.5h-13.7q-1.5 0-1.5-1.5v-9.1q0-1.5 1.5-1.5z"/>
<circle cx="1026.9" cy="256.9" r="3.5"/>
<circle cx="1032.4" cy="253.95" r="0.65" fill="#a2b1c6" stroke="none"/>
</g>
<g fill="#c8d4e3">
<path d="M1019.6 280.7v-5.9h2.9M1034.5 280.7v-5.9h-2.9" fill="none" stroke="#c8d4e3" stroke-width="1.55"/>
<path d="M1027.45 272.9l3.6 3.7h-2v3.3h-3.2v-3.3h-2z"/>
<text x="1027.45" y="288.4" style="font:bold 9.3px 'Liberation Sans',sans-serif" stroke="#c8d4e3" stroke-width="0.25" text-anchor="middle" textLength="17.3" lengthAdjust="spacingAndGlyphs">SVG</text>
</g>
<g fill="none" stroke="#c8d4e3" stroke-width="1.25">
<rect x="1019.5" y="299.6" width="16.4" height="15.7" rx="0.8"/>
<path d="M1019.5 302.35h16.4"/>
<path d="M1025.6 307.2l-3.4 1.8l3.4 1.8M1029.9 307.2l3.4 1.8l-3.4 1.8M1028.4 305.4l-1.9 6.4" stroke-width="1.05"/>
</g>
<g fill="none" stroke="#a2b1c6" stroke-width="1.4" stroke-linejoin="round" stroke-linecap="round">
<path d="M1024.6 327.1h-2.4q-1.5 0-1.5 1.5v12.1q0 1.5 1.5 1.5h9.7q1.5 0 1.5-1.5v-12.1q0-1.5-1.5-1.5h-2.4"/>
<rect x="1024.65" y="325.7" width="4.8" height="2.6" rx="0.7"/>
<path d="M1024 335.2l2.05 2.2l4.1-4.1"/>
</g>
</svg>
  </div>
</div>
</body>
</html>
